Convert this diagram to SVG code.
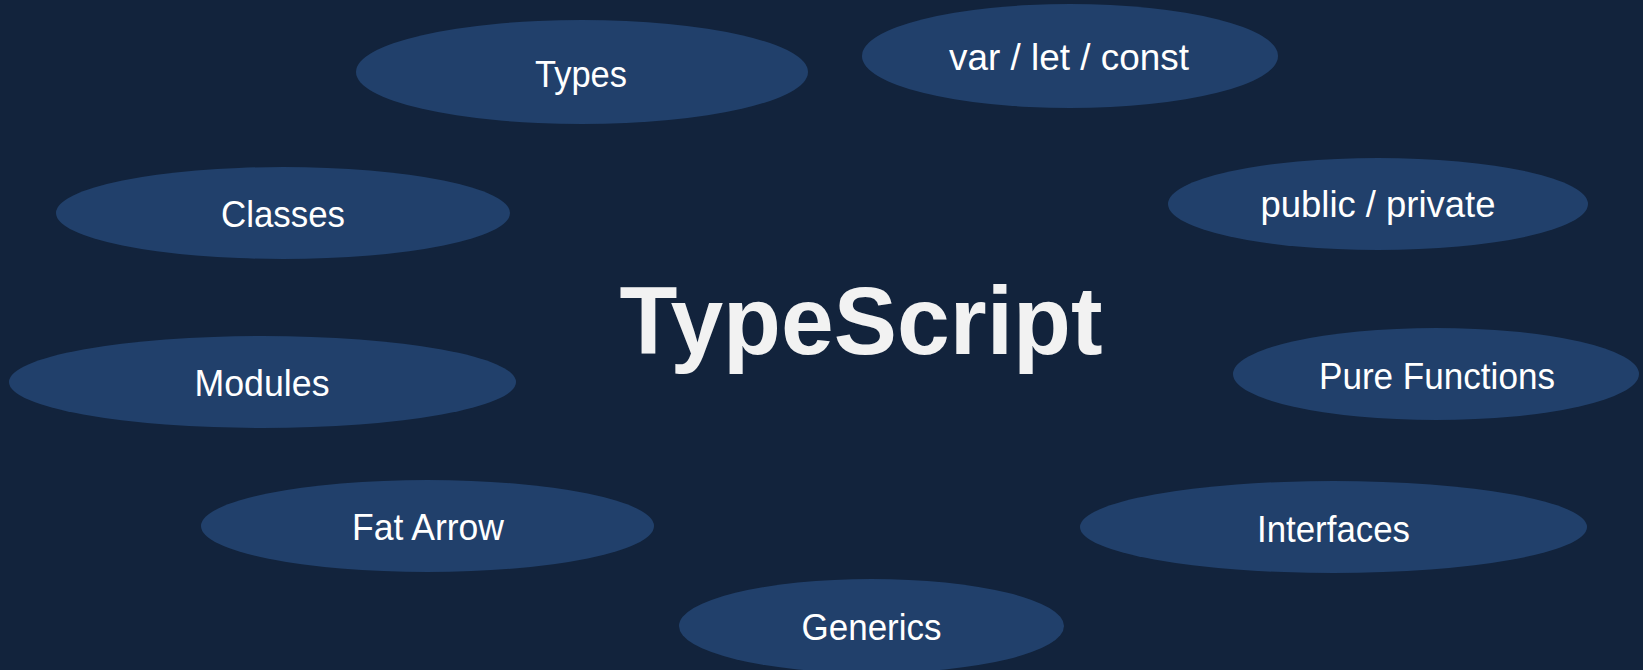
<svg xmlns="http://www.w3.org/2000/svg" width="1643" height="670" viewBox="0 0 1643 670">
<style>
.bg{fill:#12233c}
.n{fill:#21406b}
.t{font-family:"Liberation Sans",Arial,sans-serif;font-size:37px;fill:#ffffff;text-anchor:middle}
.title{font-family:"Liberation Sans",Arial,sans-serif;font-size:96px;font-weight:bold;fill:#f2f2f2;text-anchor:middle}
</style>
<rect class="bg" x="0" y="0" width="1643" height="670"/>
<g id="connectors"></g>
<g id="node-typescript"><text class="title" x="861" y="354" textLength="483" lengthAdjust="spacingAndGlyphs">TypeScript</text></g>
<g id="node-types"><ellipse class="n" cx="582" cy="72" rx="226" ry="52"/><text class="t" x="581" y="87" textLength="92" lengthAdjust="spacingAndGlyphs">Types</text></g>
<g id="node-varletconst"><ellipse class="n" cx="1070" cy="56" rx="208" ry="52"/><text class="t" x="1069" y="70" textLength="240" lengthAdjust="spacingAndGlyphs">var / let / const</text></g>
<g id="node-classes"><ellipse class="n" cx="283" cy="213" rx="227" ry="46"/><text class="t" x="283" y="227" textLength="124" lengthAdjust="spacingAndGlyphs">Classes</text></g>
<g id="node-publicprivate"><ellipse class="n" cx="1378" cy="204" rx="210" ry="46"/><text class="t" x="1378" y="217" textLength="235" lengthAdjust="spacingAndGlyphs">public / private</text></g>
<g id="node-modules"><ellipse class="n" cx="262.5" cy="382" rx="253.5" ry="46"/><text class="t" x="262" y="396" textLength="135" lengthAdjust="spacingAndGlyphs">Modules</text></g>
<g id="node-purefunctions"><ellipse class="n" cx="1436" cy="374" rx="203" ry="46"/><text class="t" x="1437" y="389" textLength="236" lengthAdjust="spacingAndGlyphs">Pure Functions</text></g>
<g id="node-fatarrow"><ellipse class="n" cx="427.5" cy="526" rx="226.5" ry="46"/><text class="t" x="428" y="540" textLength="152" lengthAdjust="spacingAndGlyphs">Fat Arrow</text></g>
<g id="node-interfaces"><ellipse class="n" cx="1333.5" cy="527" rx="253.5" ry="46"/><text class="t" x="1333.5" y="542" textLength="153" lengthAdjust="spacingAndGlyphs">Interfaces</text></g>
<g id="node-generics"><ellipse class="n" cx="871.5" cy="626" rx="192.5" ry="47"/><text class="t" x="871.5" y="640" textLength="140" lengthAdjust="spacingAndGlyphs">Generics</text></g>
</svg>
